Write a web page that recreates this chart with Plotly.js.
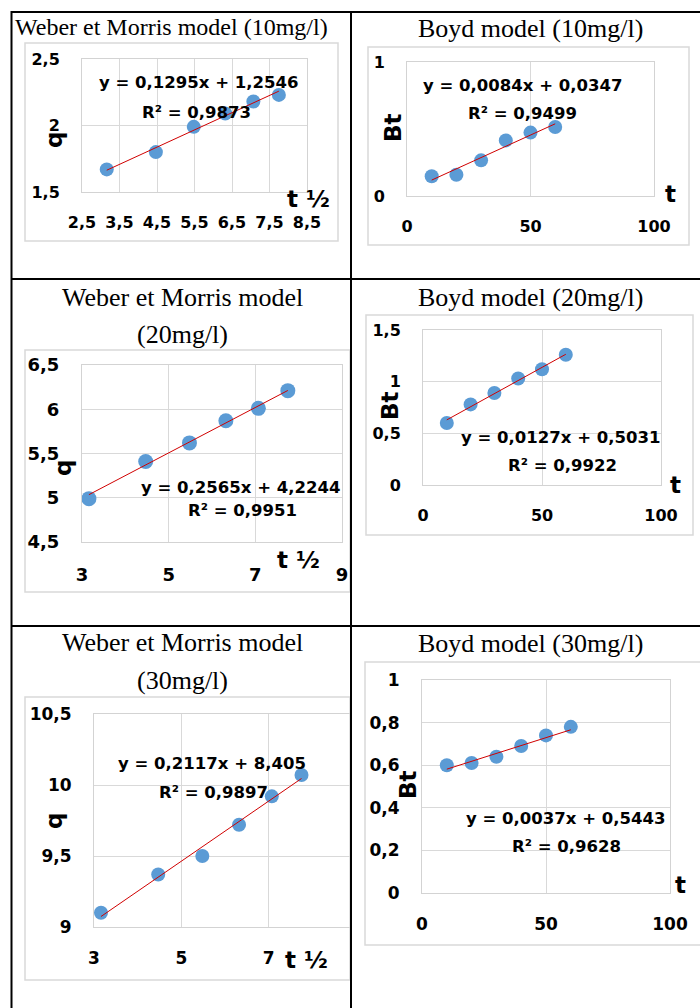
<!DOCTYPE html>
<html><head><meta charset="utf-8">
<script src="https://cdn.plot.ly/plotly-3.0.1.min.js"></script>
<style>html,body{margin:0;padding:0;background:#fff;}#chart{width:700px;height:1008px;}</style>
</head><body><div id="chart"></div>
<script>
// ---------- data ----------
const sqrtTime = [3.16, 4.47, 5.48, 6.32, 7.07, 7.75];   // t½ (Weber et Morris)
const time     = [10, 20, 30, 40, 50, 60];              // t (Boyd)
const qWM10    = [1.67, 1.80, 1.99, 2.09, 2.18, 2.23];
const btBoyd10 = [0.147, 0.159, 0.266, 0.415, 0.473, 0.515];
const qWM20    = [4.99, 5.41, 5.62, 5.87, 6.01, 6.21];
const btBoyd20 = [0.60, 0.78, 0.89, 1.03, 1.12, 1.26];
const qWM30    = [9.10, 9.37, 9.50, 9.72, 9.92, 10.07];
const btBoyd30 = [0.60, 0.61, 0.64, 0.69, 0.74, 0.78];
const slopes     = [0.1295, 0.0084, 0.2565, 0.0127, 0.2117, 0.0037];
const intercepts = [1.2546, 0.0347, 4.2244, 0.5031, 8.405, 0.5443];
const r2         = [0.9873, 0.9499, 0.9951, 0.9922, 0.9897, 0.9628];
const titleLines = [
  ["Weber et Morris model (10mg/l)"], ["Boyd model (10mg/l)"],
  ["Weber et Morris model", "(20mg/l)"], ["Boyd model (20mg/l)"],
  ["Weber et Morris model", "(30mg/l)"], ["Boyd model (30mg/l)"]
];
const xTitles = ["t ½", "t", "t ½", "t", "t ½", "t"];
const yTitles = ["q", "Bt", "q", "Bt", "q", "Bt"];
const xs = [sqrtTime, time, sqrtTime, time, sqrtTime, time];
const ys = [qWM10, btBoyd10, qWM20, btBoyd20, qWM30, btBoyd30];

// ---------- layout (pixel geometry) ----------
const W = 700, H = 1008;
const PX = p => p / W, PY = p => 1 - p / H;
const panels = [
  {plot:[82,307,59,192],  xr:[2.5,8.5], xd:1, x0:2.5, yr:[1.5,2.5], yd:0.5, fs:16, ms:14, box:[25,43,338,241],
   title:[[171,27,24]], yt:[54,140], xt:[308,199], eq:[[198,82],[196,112]]},
  {plot:[407,654,62,196], xr:[0,100], xd:50, x0:0, yr:[0,1], yd:1, fs:16, ms:14, box:[368,47,689,245],
   title:[[530,28,26]], yt:[393,128], xt:[670,194], eq:[[522,85],[522,113]]},
  {plot:[82,342,365,542], xr:[3,9], xd:2, x0:3, yr:[4.5,6.5], yd:0.5, fs:18, ms:15, box:[25,350,350,592],
   title:[[182,297,26],[182,335,26]], yt:[63,468], xt:[298,560], eq:[[240,487],[242,510]]},
  {plot:[423,661,330,485], xr:[0,100], xd:50, x0:0, yr:[0,1.5], yd:0.5, fs:16, ms:14, box:[366,315,693,535],
   title:[[530,297,26]], yt:[390,406], xt:[675,485], eq:[[560,437],[562,465]]},
  {plot:[94,350,714,927], xr:[3,8.86], xd:2, x0:3, yr:[9,10.5], yd:0.5, fs:17, ms:14, box:[25,697,350,980],
   title:[[182,642,26],[182,680,26]], yt:[54,821], xt:[306,960], eq:[[212,763],[213,792]]},
  {plot:[422,670,680,893], xr:[0,100], xd:50, x0:0, yr:[0,1], yd:0.2, fs:17, ms:14, box:[365,662,703,945],
   title:[[530,643,26]], yt:[408,785], xt:[680,885], eq:[[565,818],[566,846]]}
];

const fmt = v => String(v).replace('.', ',');
const boldFont = (size) => ({family:'DejaVu Sans', size:size, color:'#000', weight:'bold'});
const serifFont = (size) => ({family:'Liberation Serif, Times New Roman, serif', size:size, color:'#000'});

const traces = [];
const layout = {
  width: W, height: H, margin:{l:0,r:0,t:0,b:0}, showlegend:false,
  paper_bgcolor:'#fff', plot_bgcolor:'rgba(0,0,0,0)', separators:', ',
  annotations:[], shapes:[], hovermode:false
};

panels.forEach((p, i) => {
  const n = i === 0 ? '' : String(i + 1);
  const xa = 'xaxis' + n, ya = 'yaxis' + n;
  layout[xa] = {
    domain:[PX(p.plot[0]), PX(p.plot[1])], range:p.xr, anchor:'y'+n,
    tick0:p.x0, dtick:p.xd, showgrid:true, gridcolor:'#D9D9D9', gridwidth:1,
    zeroline:false, showline:true, mirror:true, linecolor:'#D3D3D3', linewidth:1, ticks:'',
    tickfont:boldFont(p.fs), ticklabelstandoff:16, fixedrange:true
  };
  layout[ya] = {
    domain:[PY(p.plot[3]), PY(p.plot[2])], range:p.yr, anchor:'x'+n,
    tick0:p.yr[0], dtick:p.yd, showgrid:true, gridcolor:'#D9D9D9', gridwidth:1,
    zeroline:false, showline:true, mirror:true, linecolor:'#D3D3D3', linewidth:1, ticks:'',
    tickfont:boldFont(p.fs), ticklabelstandoff:18, fixedrange:true
  };
  // markers
  traces.push({type:'scatter', mode:'markers', x:xs[i], y:ys[i], xaxis:'x'+n, yaxis:'y'+n,
    marker:{color:'#5B9BD5', size:p.ms, line:{width:0}}, cliponaxis:false});
  // linear trendline from the printed equation, between first and last point
  const tx = [xs[i][0], xs[i][xs[i].length-1]];
  traces.push({type:'scatter', mode:'lines', x:tx, y:tx.map(v => slopes[i]*v + intercepts[i]),
    xaxis:'x'+n, yaxis:'y'+n, line:{color:'#D00000', width:1}});
  // chart area box
  layout.shapes.push({type:'rect', xref:'paper', yref:'paper', layer:'below',
    x0:PX(p.box[0]), x1:PX(p.box[2]), y0:PY(p.box[3]), y1:PY(p.box[1]),
    line:{color:'#D9D9D9', width:1.5}, fillcolor:'rgba(0,0,0,0)'});
  // titles
  titleLines[i].forEach((t, k) => {
    layout.annotations.push({text:t, xref:'paper', yref:'paper', x:PX(p.title[k][0]), y:PY(p.title[k][1]),
      xanchor:'center', yanchor:'middle', showarrow:false, font:serifFont(p.title[k][2])});
  });
  // axis titles
  layout.annotations.push({text:yTitles[i], xref:'paper', yref:'paper', x:PX(p.yt[0]), y:PY(p.yt[1]),
    xanchor:'center', yanchor:'middle', showarrow:false, textangle:-90, font:boldFont(23)});
  layout.annotations.push({text:xTitles[i], xref:'paper', yref:'paper', x:PX(p.xt[0]), y:PY(p.xt[1]),
    xanchor:'center', yanchor:'middle', showarrow:false, font:boldFont(23)});
  // equation and R²
  layout.annotations.push({text:'y = ' + fmt(slopes[i]) + 'x + ' + fmt(intercepts[i]), xref:'paper', yref:'paper',
    x:PX(p.eq[0][0]), y:PY(p.eq[0][1]), xanchor:'center', yanchor:'middle', showarrow:false, font:boldFont(16.5)});
  layout.annotations.push({text:'R² = ' + fmt(r2[i]), xref:'paper', yref:'paper',
    x:PX(p.eq[1][0]), y:PY(p.eq[1][1]), xanchor:'center', yanchor:'middle', showarrow:false, font:boldFont(16.5)});
});

// table borders
const tableLine = (x0,y0,x1,y1) => ({type:'line', xref:'paper', yref:'paper', layer:'above',
  x0:PX(x0), y0:PY(y0), x1:PX(x1), y1:PY(y1), line:{color:'#000', width:2}});
layout.shapes.push(tableLine(11, 12, 700, 12));
layout.shapes.push(tableLine(11.5, 11, 11.5, 1008));
layout.shapes.push(tableLine(351, 11, 351, 1008));
layout.shapes.push(tableLine(11, 279, 700, 279));
layout.shapes.push(tableLine(11, 626, 700, 626));

Plotly.newPlot('chart', traces, layout, {staticPlot:true, displayModeBar:false});
</script></body></html>
